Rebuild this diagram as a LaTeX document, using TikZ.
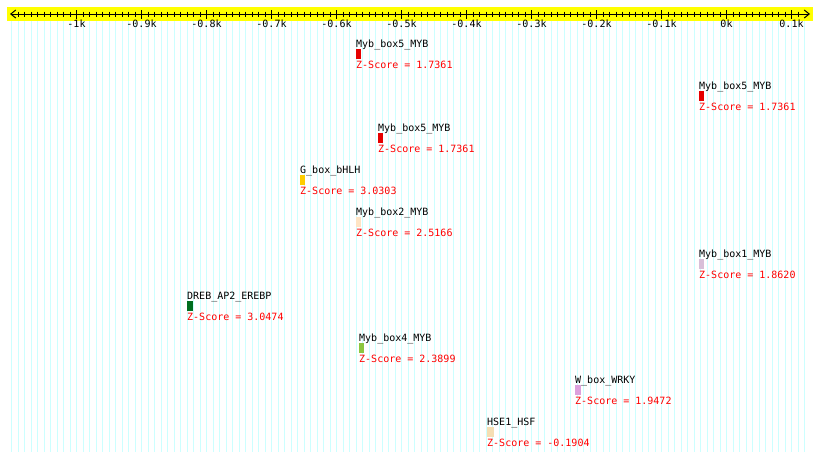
\documentclass[tikz,border=0pt]{standalone}
\usepackage{fontspec}
\setmonofont{DejaVu Sans Mono}
\usetikzlibrary{arrows.meta}
\definecolor{gridc}{RGB}{204,255,255}
\definecolor{bandc}{RGB}{255,255,0}
\definecolor{cred}{RGB}{230,0,0}
\definecolor{cgold}{RGB}{255,204,0}
\definecolor{cbisque}{RGB}{255,228,196}
\definecolor{cthistle}{RGB}{216,191,216}
\definecolor{cgreen}{RGB}{0,110,30}
\definecolor{cygreen}{RGB}{140,198,63}
\definecolor{cplum}{RGB}{221,160,221}
\definecolor{cwheat}{RGB}{245,222,179}
\definecolor{ztext}{RGB}{255,0,0}
\tikzset{
  lbl/.style={anchor=base west, inner sep=0pt, text=black},
  zlbl/.style={anchor=base west, inner sep=0pt, text=ztext},
  motif/.style={anchor=north west, inner sep=0pt, minimum height=10pt, draw=none},
  ticklbl/.style={anchor=base, inner sep=0pt},
  gridline/.style={gridc, line width=1pt},
  tickline/.style={black, line width=1pt},
}
\begin{document}
\begin{tikzpicture}[x=1pt,y=-1pt,font=\ttfamily\fontsize{10}{12}\selectfont]
\useasboundingbox (0,0) rectangle (820,461);
\fill[white] (0,0) rectangle (820,461);
% grid
\foreach \v in {-1100,-1090,...,120}
  \draw[gridline] ({726.5+0.65*\v},21) -- ({726.5+0.65*\v},452);
% axis band
\fill[bandc] (7,7) rectangle (813,21);
\coordinate (axL) at (10,14);
\coordinate (axR) at (810,14);
\draw[tickline,{Straight Barb[length=5pt,width=8pt]}-{Straight Barb[length=5pt,width=8pt]}] (axL) -- (axR);
\foreach \v in {-1090,-1080,...,110}
  \draw[tickline] ({726.5+0.65*\v},11.5) -- ({726.5+0.65*\v},17);
\foreach \v/\t in {-1000/-1k,-900/-0.9k,-800/-0.8k,-700/-0.7k,-600/-0.6k,-500/-0.5k,-400/-0.4k,-300/-0.3k,-200/-0.2k,-100/-0.1k,0/0k,100/0.1k}{
  \draw[tickline] ({726.5+0.65*\v},10) -- ({726.5+0.65*\v},19);
  \node[ticklbl] (t\v) at ({726.5+0.65*\v},27.5) {\t};
}
% motifs
\foreach \n/\x/\b/\lab/\col/\w/\z in {
  1/356/47/Myb\_box5\_MYB/cred/5/1.7361,
  2/699/89/Myb\_box5\_MYB/cred/5/1.7361,
  3/378/131/Myb\_box5\_MYB/cred/5/1.7361,
  4/300/173/G\_box\_bHLH/cgold/5/3.0303,
  5/356/215/Myb\_box2\_MYB/cbisque/5/2.5166,
  6/699/257/Myb\_box1\_MYB/cthistle/5/1.8620,
  7/187/299/DREB\_AP2\_EREBP/cgreen/6/3.0474,
  8/359/341/Myb\_box4\_MYB/cygreen/5/2.3899,
  9/575/383/W\_box\_WRKY/cplum/6/1.9472,
  10/487/425/HSE1\_HSF/cwheat/7/-0.1904}{
  \node[lbl] (lab\n) at (\x,\b) {\lab};
  \node[motif, fill=\col, minimum width=\w pt] (box\n) at (\x,{\b+2}) {};
  \node[zlbl] (z\n) at (\x,{\b+21}) {Z-Score = \z};
}
\end{tikzpicture}
\end{document}
